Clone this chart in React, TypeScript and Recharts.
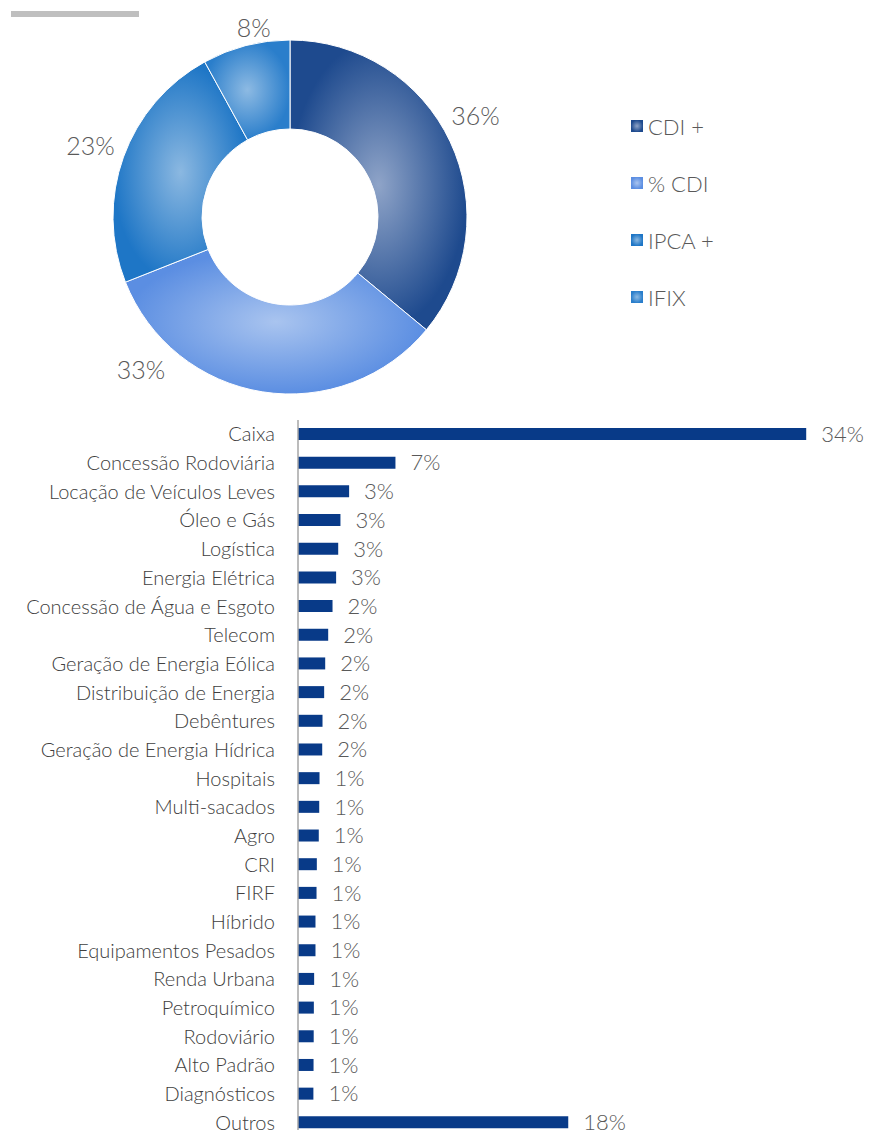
import { Bar, BarChart, Cell, LabelList, Pie, PieChart, XAxis, YAxis } from "recharts";

const INDEX_NAMES = ["CDI +", "% CDI", "IPCA +", "IFIX"];
const INDEX_SHARES = [36, 33, 23, 8];

const SECTORS = [
  "Caixa",
  "Concessão Rodoviária",
  "Locação de Veículos Leves",
  "Óleo e Gás",
  "Logística",
  "Energia Elétrica",
  "Concessão de Água e Esgoto",
  "Telecom",
  "Geração de Energia Eólica",
  "Distribuição de Energia",
  "Debêntures",
  "Geração de Energia Hídrica",
  "Hospitais",
  "Multi-sacados",
  "Agro",
  "CRI",
  "FIRF",
  "Híbrido",
  "Equipamentos Pesados",
  "Renda Urbana",
  "Petroquímico",
  "Rodoviário",
  "Alto Padrão",
  "Diagnósticos",
  "Outros",
];
const SECTOR_SHARES = [
  34.0, 6.52, 3.42, 2.84, 2.69, 2.55, 2.31, 2.02, 1.82, 1.75, 1.64, 1.62, 1.44, 1.42,
  1.39, 1.26, 1.24, 1.17, 1.17, 1.08, 1.06, 1.05, 1.04, 1.03, 18.08,
];

const pieData = INDEX_NAMES.map((name, i) => ({ name, value: INDEX_SHARES[i] }));
const barData = SECTORS.map((name, i) => ({ name, value: SECTOR_SHARES[i] }));

const FILLS = [
  { id: "gCdiPlus", inner: "#8fa4c8", outer: "#1e4a8e" },
  { id: "gPctCdi", inner: "#a9c4ef", outer: "#5b8ee2" },
  { id: "gIpca", inner: "#8bb8e1", outer: "#1e76c6" },
  { id: "gIfix", inner: "#8dbae3", outer: "#2a7ecb" },
];

const TEXT = "#595959";
const NAVY = "#083a88";

// excel moved a couple of labels away from the slice middle
const LABEL_NUDGE = [
  { da: 3.7, dr: 0 },
  { da: -35.4, dr: 1 },
  { da: 0, dr: 0 },
  { da: -3.6, dr: -19 },
];

function Gradients({ prefix = "" }: { prefix?: string }) {
  return (
    <defs>
      {FILLS.map((f) => (
        <radialGradient key={f.id} id={prefix + f.id}>
          <stop offset="0%" stopColor={f.inner} />
          <stop offset="100%" stopColor={f.outer} />
        </radialGradient>
      ))}
    </defs>
  );
}

function renderPieLabel(props: any) {
  const { cx, cy, midAngle, outerRadius, index, value } = props;
  const n = LABEL_NUDGE[index];
  const a = ((midAngle + n.da) * Math.PI) / 180;
  const r = outerRadius + 35 + n.dr;
  return (
    <text
      x={cx + r * Math.cos(a)}
      y={cy - r * Math.sin(a)}
      textAnchor="middle"
      dominantBaseline="central"
      fill={TEXT}
      fontSize={25}
      fontWeight={300}
    >
      {value}%
    </text>
  );
}

function PieLegend() {
  return (
    <ul style={{ position: "absolute", left: 631, top: 97.5, listStyle: "none", margin: 0, padding: 0 }}>
      {INDEX_NAMES.map((name, i) => (
        <li key={name} style={{ display: "flex", alignItems: "center", height: 57 }}>
          <svg width={12} height={12} style={{ marginRight: 5 }}>
            <Gradients prefix={"lg" + i} />
            <rect width={12} height={12} fill={`url(#lg${i}${FILLS[i].id})`} />
          </svg>
          <span style={{ fontSize: 22, color: TEXT, fontWeight: 300 }}>{name}</span>
        </li>
      ))}
    </ul>
  );
}

export default function App() {
  return (
    <div
      style={{
        position: "absolute",
        left: 0,
        top: 0,
        width: 870,
        height: 1130,
        overflow: "hidden",
        background: "#fff",
        fontFamily: "Lato, sans-serif",
      }}
    >
      <div style={{ position: "absolute", left: 11, top: 11, width: 128, height: 6, background: "#bfbfbf" }} />
      <div style={{ position: "absolute", left: 0, top: 0 }}>
        <PieChart width={870} height={410} margin={{ top: 0, right: 0, bottom: 0, left: 0 }}>
          <Gradients />
          <Pie
            data={pieData}
            dataKey="value"
            nameKey="name"
            cx={290}
            cy={217}
            innerRadius={88}
            outerRadius={177}
            startAngle={90}
            endAngle={-270}
            stroke="#fff"
            strokeWidth={1}
            label={renderPieLabel}
            labelLine={false}
            isAnimationActive={false}
          >
            {pieData.map((_, i) => (
              <Cell key={i} fill={`url(#${FILLS[i].id})`} />
            ))}
          </Pie>
        </PieChart>
      </div>
      <PieLegend />
      <div style={{ position: "absolute", left: 0, top: 420 }}>
        <BarChart
          width={870}
          height={717}
          layout="vertical"
          data={barData}
          margin={{ top: 0, right: 4, bottom: 0, left: 0 }}
        >
          <XAxis type="number" domain={[0, 38]} hide />
          <YAxis
            type="category"
            dataKey="name"
            width={298}
            interval={0}
            tickLine={false}
            tickSize={0}
            tickMargin={23}
            axisLine={{ stroke: "#a6a6a6", strokeWidth: 1.5 }}
            tick={{ fontSize: 20, fill: "#404040", fontWeight: 300 }}
          />
          <Bar dataKey="value" fill={NAVY} barSize={12} isAnimationActive={false}>
            <LabelList
              dataKey="value"
              position="right"
              offset={15}
              fill={TEXT}
              fontSize={22}
              fontWeight={300}
              formatter={(v: any) => `${Math.round(Number(v))}%`}
            />
          </Bar>
        </BarChart>
      </div>
    </div>
  );
}
